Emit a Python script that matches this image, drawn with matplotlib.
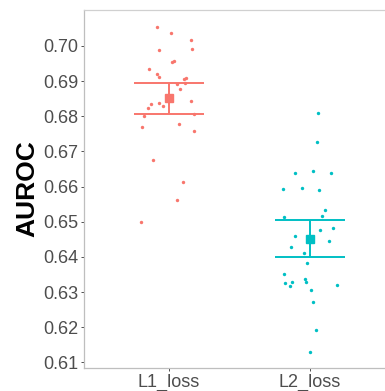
import matplotlib
matplotlib.use("Agg")
import matplotlib.pyplot as plt
import numpy as np

plt.rcParams['font.family'] = ['Liberation Sans', 'DejaVu Sans']

groups = ['L1_loss', 'L2_loss']
colors = ['#F8766D', '#00BFC4']

# AUROC values
l1_auroc = [0.7055, 0.7037, 0.7017, 0.6988, 0.6992, 0.6953, 0.6957, 0.6935,
            0.6921, 0.6912, 0.6909, 0.6905, 0.6895, 0.6891, 0.6876, 0.6836,
            0.6838, 0.6829, 0.6822, 0.6843, 0.6800, 0.6805, 0.6769, 0.6777,
            0.6757, 0.6676, 0.6614, 0.6562, 0.6499]
l2_auroc = [0.6810, 0.6726, 0.6639, 0.6644, 0.6638, 0.6594, 0.6597, 0.6590,
            0.6532, 0.6516, 0.6512, 0.6482, 0.6477, 0.6458, 0.6445, 0.6428,
            0.6410, 0.6382, 0.6352, 0.6326, 0.6328, 0.6317, 0.6338, 0.6328,
            0.6319, 0.6307, 0.6273, 0.6193, 0.6129]

# horizontal jitter of each point (category units)
l1_jitter = [-0.085, 0.016, 0.161, -0.066, 0.168, 0.023, 0.035, -0.137,
             -0.083, -0.071, 0.123, 0.111, 0.118, 0.062, 0.078, -0.126,
             -0.066, -0.038, -0.144, 0.161, -0.175, 0.177, -0.187, 0.076,
             0.182, -0.109, 0.099, 0.059, -0.194]
l2_jitter = [0.059, 0.048, -0.104, 0.023, 0.149, -0.191, -0.057, 0.062,
             0.109, 0.087, -0.184, 0.163, 0.071, -0.104, 0.135, -0.135,
             -0.040, -0.023, -0.184, -0.175, -0.126, -0.144, -0.038, -0.028,
             0.191, 0.007, 0.021, 0.043, 0.000]

values = [l1_auroc, l2_auroc]
jitters = [l1_jitter, l2_jitter]
ci_mult = 1.76  # width of the bars in standard errors

fig = plt.figure(figsize=(3.85, 3.91), dpi=100)
ax = fig.add_axes([84 / 385, 1 - 368 / 391, 310.6 / 385, 358 / 391])

for i, (vals, jit) in enumerate(zip(values, jitters)):
    xpos = i + 1
    v = np.array(vals)
    ax.scatter(xpos + np.array(jit), v, s=6, color=colors[i], linewidths=0, zorder=2)
    m = v.mean()
    ci = ci_mult * v.std(ddof=1) / np.sqrt(len(v))
    ax.errorbar(xpos, m, yerr=ci, fmt='s', color=colors[i], markersize=6,
                elinewidth=1.4, capsize=25.5, capthick=1.4, zorder=3)

ax.set_xlim(0.4, 2.6)
ax.set_ylim(0.6084, 0.7102)
ax.set_xticks([1, 2])
ax.set_xticklabels(groups)
ax.set_yticks(np.arange(0.61, 0.705, 0.01))
ax.set_yticklabels(['%.2f' % t for t in np.arange(0.61, 0.705, 0.01)])

for s in ax.spines.values():
    s.set_color('#BEBEBE')
    s.set_linewidth(0.9)
ax.spines['top'].set_color('#D0D0D0')
ax.tick_params(axis='both', colors='#333333', labelcolor='#4D4D4D',
               labelsize=13, length=2.5, width=0.6, pad=1.5)
ax.tick_params(axis='x', pad=2)

fig.text(27 / 385, 1 - 189 / 391, 'AUROC', rotation=90, ha='center', va='center',
         fontsize=19, fontweight='bold', color='black')

fig.savefig('out.png', dpi=100)
